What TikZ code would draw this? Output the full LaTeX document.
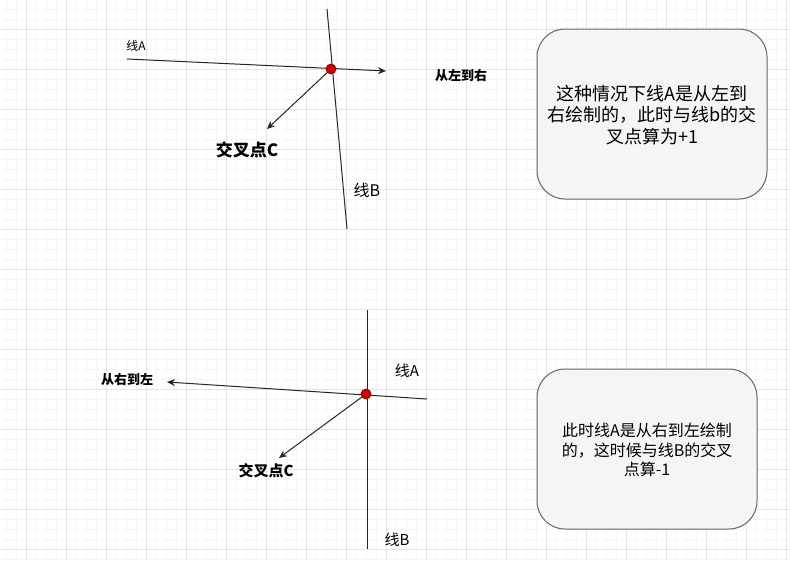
\documentclass[tikz,border=0pt]{standalone}
\usepackage{fontspec}
\setmainfont{Noto Sans CJK SC}
\usetikzlibrary{arrows.meta}
\definecolor{gmajor}{HTML}{E4E4E4}
\definecolor{gminor}{HTML}{F5F5F5}
\definecolor{boxfill}{HTML}{F5F5F5}
\definecolor{boxline}{HTML}{666666}
\definecolor{dotfill}{HTML}{CC0000}
\definecolor{dotline}{HTML}{8A0000}
\tikzset{
  ln/.style={line width=1pt, draw=black!85},
  arr/.style={ln, -{Stealth[length=8pt,width=7pt]}},
  xdot/.style={circle, fill=dotfill, draw=dotline, line width=0.8pt, minimum size=10pt, inner sep=0pt},
  lbl/.style={inner sep=0pt, text=black},
  note/.style={draw=boxline, fill=boxfill, line width=1pt, rounded corners=28pt, align=center, inner sep=0pt}
}
\begin{document}
\begin{tikzpicture}[x=1pt,y=-1pt]
\useasboundingbox (0,0) rectangle (790,560);
\fill[white] (0,0) rectangle (790,560);
% grid
\foreach \i in {0,...,78} \draw[gminor, line width=1pt] ({6+10*\i},0) -- ({6+10*\i},560);
\foreach \i in {0,...,55} \draw[gminor, line width=1pt] (0,{9+10*\i}) -- (790,{9+10*\i});
\foreach \i in {0,...,19} \draw[gmajor, line width=1pt] ({26+40*\i},0) -- ({26+40*\i},560);
\foreach \i in {0,...,13} \draw[gmajor, line width=1pt] (0,{29+40*\i}) -- (790,{29+40*\i});

% ---------- top ----------
\coordinate (a1) at (127,59);
\coordinate (a2) at (386,71);
\coordinate (b1) at (327,9);
\coordinate (b2) at (347,229);
\coordinate (p1) at (331,69);
\coordinate (c1) at (267,129);
\draw[arr] (a1) -- (a2);
\draw[ln] (b1) -- (b2);
\draw[arr] (p1) -- (c1);
\node[xdot] (x1) at (p1) {};
\node[lbl, font=\fontsize{12}{14}\selectfont] (la1) at (136,46) {线A};
\node[lbl, font=\fontsize{13}{15}\selectfont\bfseries] (dir1) at (461,76) {从左到右};
\node[lbl, font=\fontsize{17}{20}\selectfont\bfseries] (cc1) at (247,150) {交叉点C};
\node[lbl, font=\fontsize{16}{19}\selectfont] (lb1) at (367,190) {线B};
\draw[note] (537,29) rectangle (767,199);
\node[lbl, align=center, font=\fontsize{18}{21.5}\selectfont] (t1) at (652,115) {这种情况下线A是从左到\\右绘制的，此时与线b的交\\叉点算为+1};

% ---------- bottom ----------
\coordinate (a3) at (427,399);
\coordinate (a4) at (167,382);
\coordinate (b3) at (367,310);
\coordinate (b4) at (367,549);
\coordinate (p2) at (366,394);
\coordinate (c2) at (279,458);
\draw[arr] (a3) -- (a4);
\draw[ln] (b3) -- (b4);
\draw[arr] (p2) -- (c2);
\node[xdot] (x2) at (p2) {};
\node[lbl, font=\fontsize{13}{15}\selectfont\bfseries] (dir2) at (127,380) {从右到左};
\node[lbl, font=\fontsize{15}{18}\selectfont] (la2) at (407,371) {线A};
\node[lbl, font=\fontsize{15}{18}\selectfont\bfseries] (cc2) at (266,471) {交叉点C};
\node[lbl, font=\fontsize{15}{18}\selectfont] (lb2) at (397,540) {线B};
\draw[note] (537,369) rectangle (757,529);
\node[lbl, align=center, font=\fontsize{16}{19.2}\selectfont] (t2) at (647,450) {此时线A是从右到左绘制\\的，这时候与线B的交叉\\点算-1};
\end{tikzpicture}
\end{document}
